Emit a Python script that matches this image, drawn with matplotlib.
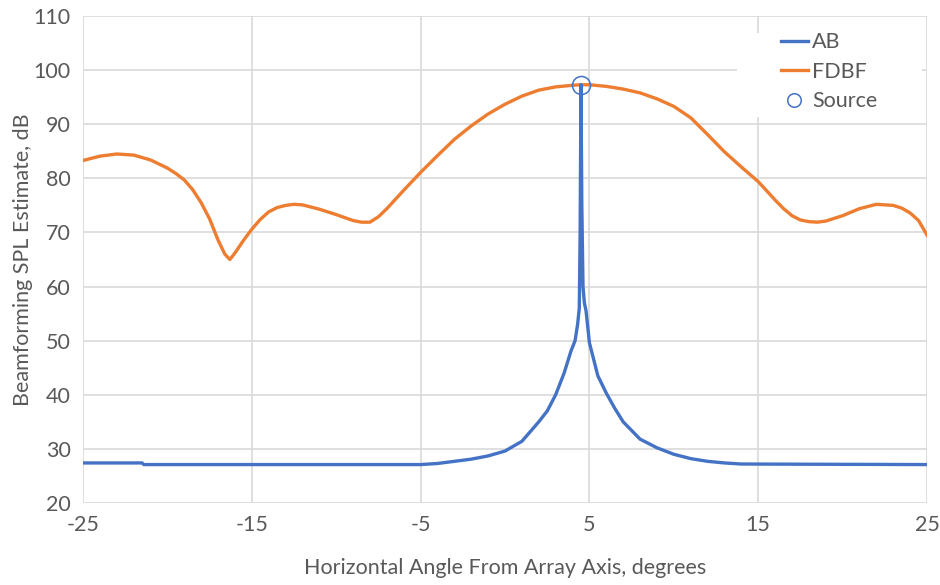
import matplotlib.pyplot as plt
from matplotlib.patches import Rectangle

# Datos
fdbf_angulo = [-25, -24, -23, -22, -21, -20, -19.5, -19, -18.5, -18, -17.5, -17, -16.6, -16.3, -16, -15.5,
               -15, -14.5, -14, -13.5, -13, -12.5, -12, -11.5, -11, -10, -9, -8.5, -8, -7.5, -7,
               -6.5, -6, -5, -4, -3, -2, -1, 0, 1, 2, 3, 4, 4.5, 5, 6, 7, 8, 9, 10, 11, 12, 13,
               14, 15, 16, 16.5, 17, 17.5, 18, 18.5, 19, 20, 21, 22, 23, 23.5, 24, 24.5, 25]
fdbf_spl = [83.3, 84.1, 84.5, 84.3, 83.4, 81.9, 80.9, 79.7, 77.9, 75.5, 72.5, 68.6, 66.0, 65.0, 66.2, 68.5,
            70.6, 72.4, 73.8, 74.6, 75.0, 75.2, 75.1, 74.7, 74.3, 73.3, 72.2, 71.9, 71.9, 72.9, 74.4,
            76.1, 77.8, 81.1, 84.2, 87.2, 89.7, 91.9, 93.7, 95.2, 96.3, 96.9, 97.2, 97.3, 97.3, 97.0,
            96.5, 95.8, 94.7, 93.3, 91.2, 88.1, 84.9, 82.1, 79.4, 76.0, 74.4, 73.1, 72.3, 72.0, 71.9,
            72.1, 73.1, 74.4, 75.2, 75.0, 74.5, 73.6, 72.2, 69.5]

ab_angulo = [-25, -21.5, -21.4, -5, -4, -3, -2, -1, 0, 1, 2, 2.5, 3, 3.5, 3.9, 4.15, 4.3, 4.4, 4.45,
             4.5, 4.55, 4.62, 4.7, 4.8, 5.0, 5.5, 6, 6.5, 7, 8, 9, 10, 11, 12, 13, 14, 25]
ab_spl = [27.4, 27.4, 27.1, 27.1, 27.3, 27.7, 28.1, 28.7, 29.6, 31.4, 35.0, 37.0, 40.0, 44.0, 48.0, 50.0,
          53.0, 56.0, 70.0, 97.3, 75.0, 60.0, 57.0, 55.5, 49.6, 43.5, 40.3, 37.5, 35.0, 31.8, 30.2,
          29.0, 28.2, 27.7, 27.4, 27.2, 27.1]

fuente_angulo = [4.5]
fuente_spl = [97.3]

xticks = [-25, -15, -5, 5, 15, 25]
yticks = [20, 30, 40, 50, 60, 70, 80, 90, 100, 110]

plt.rcParams['font.family'] = ['Lato', 'DejaVu Sans']
plt.rcParams['axes.unicode_minus'] = False
gris = '#595959'
fs = 15.5

fig = plt.figure(figsize=(9.4, 5.85), dpi=100)
ax = fig.add_axes([0.0883, 0.1402, 0.8979, 0.8324])

ax.plot(ab_angulo, ab_spl, color='#4472C4', lw=2.4, label='AB', zorder=3)
ax.plot(fdbf_angulo, fdbf_spl, color='#ED7D31', lw=2.4, label='FDBF', zorder=2)
ax.plot(fuente_angulo, fuente_spl, 'o', ms=13, mfc='none', mec='#4472C4', mew=1.1,
        label='Source', zorder=4)

ax.set_xlim(-25, 25)
ax.set_ylim(20, 110)
ax.set_xticks(xticks)
ax.set_yticks(yticks)
ax.grid(True, color='#d9d9d9', lw=1.2)
ax.set_axisbelow(True)
for s in ax.spines.values():
    s.set_visible(False)
ax.tick_params(length=0, labelsize=fs, colors=gris, pad=9)

ax.set_xlabel('Horizontal Angle From Array Axis, degrees', fontsize=fs, color=gris, labelpad=16)
ax.set_ylabel('Beamforming SPL Estimate, dB', fontsize=fs, color=gris, labelpad=0)

# Fondo blanco de la leyenda (tapa la cuadricula)
ax.add_patch(Rectangle((0.775, 0.793), 0.219, 0.172, transform=ax.transAxes,
                       facecolor='white', edgecolor='none', zorder=1))
leg = ax.legend(loc='upper left', fontsize=fs, frameon=False,
                handlelength=1.25, handletextpad=0.2, labelspacing=0.45, markerscale=0.75,
                borderpad=0, borderaxespad=0, bbox_to_anchor=(0.827, 0.967))
for t in leg.get_texts():
    t.set_color(gris)

plt.savefig('out.png', dpi=100)
